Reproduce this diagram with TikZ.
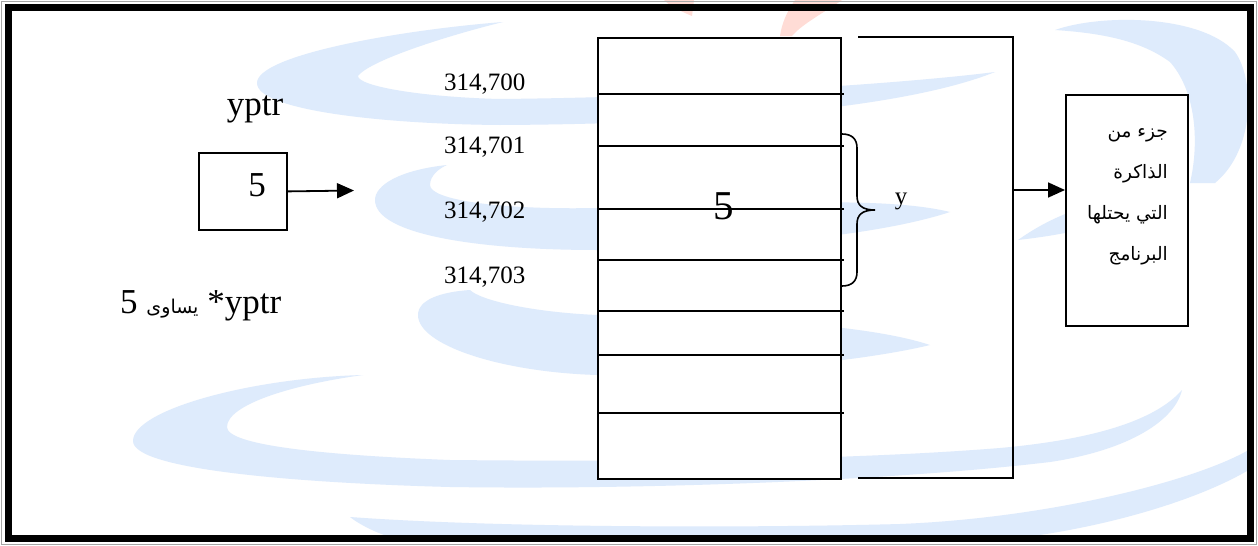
\documentclass[tikz,border=0pt]{standalone}
\usepackage{fontspec}
\setmainfont{Liberation Serif}
\newfontfamily\arabicfont[Script=Arabic]{DejaVu Sans}
\TeXXeTstate=1
\usetikzlibrary{arrows.meta}
\definecolor{swirlblue}{RGB}{222,235,252}
\definecolor{flamepink}{RGB}{255,220,214}
\newcommand\myfs[1]{\fontsize{#1}{#1}\selectfont}
\begin{document}
\begin{tikzpicture}[x=1pt,y=-1pt,
  ln/.style={line width=1.8pt},
  boxshape/.style={draw, line width=1.8pt, fill=white, inner sep=0pt, anchor=north west},
  arr/.style={line width=1.8pt, -{Triangle[length=17pt,width=15pt]}},
  txt/.style={inner sep=0pt, anchor=base},
  swirl/.style={fill=swirlblue, draw=none}]
\useasboundingbox (0,0) rectangle (1258,546);
\fill[white] (0,0) rectangle (1258,546);
% watermark swirls
\fill[swirl] (503,22) .. controls (400,30) and (257,55) .. (257,83) .. controls (257,110) and (380,124) .. (500,125) .. controls (700,124) and (900,110) .. (995,72) .. controls (900,84) and (700,97) .. (500,99) .. controls (420,97) and (358,86) .. (358,76) .. controls (370,60) and (450,35) .. (503,22) -- cycle;
\fill[swirl] (1055,30) .. controls (1100,14) and (1200,14) .. (1235,52) .. controls (1255,80) and (1255,150) .. (1215,183) -- (1190,183) .. controls (1200,140) and (1195,90) .. (1170,62) .. controls (1140,40) and (1100,33) .. (1055,30) -- cycle;
\fill[swirl] (447,165) .. controls (400,170) and (375,185) .. (375,200) .. controls (375,235) and (480,250) .. (597,250) .. controls (750,248) and (880,235) .. (950,212) .. controls (880,195) and (750,205) .. (597,208) .. controls (500,210) and (430,200) .. (430,185) .. controls (430,175) and (440,168) .. (447,165) -- cycle;
\fill[swirl] (1018,240) .. controls (1035,228) and (1050,220) .. (1070,212) -- (1070,232) .. controls (1050,236) and (1035,238) .. (1018,240) -- cycle;
\fill[swirl] (470,290) .. controls (440,292) and (418,300) .. (418,315) .. controls (418,345) and (500,372) .. (597,375) .. controls (720,375) and (860,362) .. (930,345) .. controls (860,322) and (720,318) .. (597,315) .. controls (530,312) and (480,300) .. (470,290) -- cycle;
\fill[swirl] (363,375) .. controls (250,378) and (133,410) .. (133,441) .. controls (133,470) and (300,483) .. (450,487) .. controls (650,490) and (900,480) .. (1050,462) .. controls (1130,450) and (1175,420) .. (1182,390) .. controls (1160,415) and (1110,438) .. (1000,448) .. controls (850,460) and (650,462) .. (450,460) .. controls (320,455) and (227,445) .. (227,427) .. controls (227,405) and (290,385) .. (363,375) -- cycle;
\fill[swirl] (350,517) .. controls (500,528) and (750,528) .. (900,524) .. controls (1050,518) and (1200,480) .. (1252,448) -- (1252,468) .. controls (1200,500) and (1100,530) .. (1000,540) -- (400,540) .. controls (380,535) and (360,525) .. (350,517) -- cycle;
% flame
\fill[flamepink] (795,0) -- (842,0) .. controls (825,12) and (802,24) .. (792,36) -- (780,36) .. controls (782,22) and (788,10) .. (795,0) -- cycle;
\fill[flamepink] (664,0) -- (694,0) -- (692,16) .. controls (680,11) and (670,6) .. (664,0) -- cycle;
% pointer
\node[txt, font=\myfs{35}] (lbl) at (255,115.5) {yptr};
\node[boxshape, minimum width=88pt, minimum height=77pt] (ptr) at (198,152) {};
\node[txt, font=\myfs{35}] (ptrv) at (257,196) {5};
\coordinate (ptrtip) at (354,190.5);
\draw[arr] (ptr.east) -- (ptrtip);
\node[txt, anchor=base west] (eq) at (120,313) {\myfs{35}5 {\arabicfont\myfs{19}\beginR يساوى\endR} *yptr};
% memory
\node[boxshape, minimum width=243pt, minimum height=441pt] (mem) at (597,37) {};
\foreach \yy in {94,146,209,260,311,355,413} \draw[ln] (598,\yy) -- (844,\yy);
\node[txt, font=\myfs{41}] (memv) at (724,219) {5};
\node[txt, anchor=base west, font=\myfs{25}] (a0) at (444,90) {314,700};
\node[txt, anchor=base west, font=\myfs{25}] (a1) at (444,153) {314,701};
\node[txt, anchor=base west, font=\myfs{25}] (a2) at (444,218) {314,702};
\node[txt, anchor=base west, font=\myfs{25}] (a3) at (444,283) {314,703};
% brace
\draw[line width=1.6pt] (842,134) .. controls (852,134) and (857,139) .. (857,148) -- (857,196) .. controls (857,205) and (862,210) .. (875,210) .. controls (862,210) and (857,215) .. (857,224) -- (857,272) .. controls (857,281) and (852,286) .. (842,286);
\node[txt, font=\myfs{25}] (ylab) at (901,204) {y};
% program region
\draw[ln] (858,37) -- (1013,37) -- (1013,478) -- (858,478);
\coordinate (bk) at (1013,190);
\node[boxshape, minimum width=122pt, minimum height=231pt] (prog) at (1065,94) {};
\draw[arr] (bk) -- (prog.west |- bk);
\node[txt, anchor=base east, font=\arabicfont\myfs{18.5}] (p1) at (1168,137) {\beginR جزء من\endR};
\node[txt, anchor=base east, font=\arabicfont\myfs{18.5}] (p2) at (1168,178) {\beginR الذاكرة\endR};
\node[txt, anchor=base east, font=\arabicfont\myfs{18.5}] (p3) at (1168,219) {\beginR التي يحتلها\endR};
\node[txt, anchor=base east, font=\arabicfont\myfs{18.5}] (p4) at (1168,260) {\beginR البرنامج\endR};
% frame
\draw[gray!70, line width=1pt] (1.5,1.5) rectangle (1256.5,544.5);
\draw[line width=7pt] (8,7.5) rectangle (1250.5,538.5);
\end{tikzpicture}
\end{document}
